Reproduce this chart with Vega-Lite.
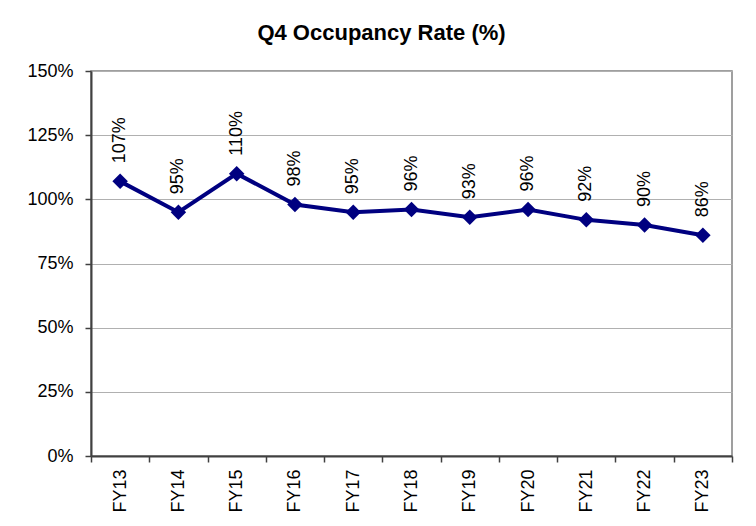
{
  "$schema": "https://vega.github.io/schema/vega-lite/v6.json",
  "width": 641,
  "height": 385,
  "autosize": "none",
  "padding": {"left": 91, "top": 71, "right": 24, "bottom": 70},
  "background": "white",
  "title": {
    "text": "Q4 Occupancy Rate (%)",
    "font": "Liberation Sans",
    "fontSize": 22,
    "fontWeight": "bold",
    "color": "black",
    "anchor": "middle",
    "offset": 17,
    "dx": -30
  },
  "config": {
    "view": {"stroke": "#808080", "strokeWidth": 1.5},
    "font": "Liberation Sans"
  },
  "data": {
    "values": [
      {"year": "FY13", "rate": 1.07},
      {"year": "FY14", "rate": 0.95},
      {"year": "FY15", "rate": 1.10},
      {"year": "FY16", "rate": 0.98},
      {"year": "FY17", "rate": 0.95},
      {"year": "FY18", "rate": 0.96},
      {"year": "FY19", "rate": 0.93},
      {"year": "FY20", "rate": 0.96},
      {"year": "FY21", "rate": 0.92},
      {"year": "FY22", "rate": 0.90},
      {"year": "FY23", "rate": 0.86}
    ]
  },
  "encoding": {
    "x": {
      "field": "year",
      "type": "ordinal",
      "scale": {"paddingInner": 0, "paddingOuter": 0},
      "axis": {
        "title": null,
        "labelAngle": -90,
        "labelAlign": "right",
        "labelBaseline": "middle",
        "labelFont": "Liberation Sans",
        "labelFontSize": 18,
        "labelColor": "black",
        "labelPadding": 7,
        "tickBand": "extent",
        "tickColor": "#404040",
        "tickSize": 6,
        "tickWidth": 1.5,
        "domainColor": "#404040",
        "domainWidth": 2,
        "grid": false
      }
    },
    "y": {
      "field": "rate",
      "type": "quantitative",
      "scale": {"domain": [0, 1.5], "nice": false},
      "axis": {
        "title": null,
        "values": [0, 0.25, 0.5, 0.75, 1, 1.25, 1.5],
        "format": ".0%",
        "labelFont": "Liberation Sans",
        "labelFontSize": 18,
        "labelColor": "black",
        "labelPadding": 12,
        "tickColor": "#404040",
        "tickSize": 6,
        "tickWidth": 1.5,
        "domainColor": "#404040",
        "domainWidth": 2,
        "grid": true,
        "gridColor": "#b0b0b0",
        "gridWidth": 1
      }
    }
  },
  "layer": [
    {
      "mark": {"type": "line", "color": "#000080", "strokeWidth": 4}
    },
    {
      "mark": {"type": "point", "shape": "diamond", "filled": true, "color": "#000080", "size": 240, "opacity": 1}
    },
    {
      "mark": {
        "type": "text",
        "angle": 270,
        "align": "left",
        "baseline": "middle",
        "dx": 18,
        "font": "Liberation Sans",
        "fontSize": 18,
        "color": "black"
      },
      "encoding": {
        "text": {"field": "rate", "type": "quantitative", "format": ".0%"}
      }
    }
  ]
}
